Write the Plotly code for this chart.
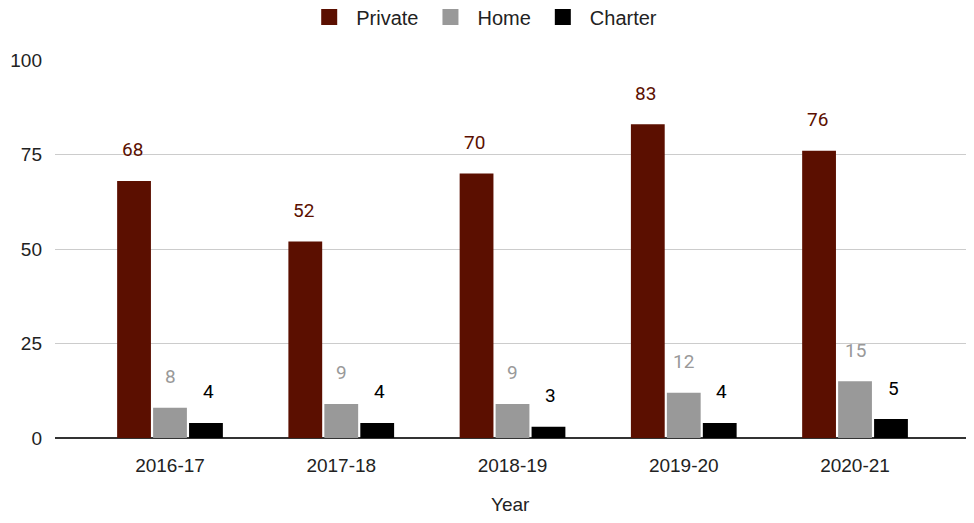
import plotly.graph_objects as go

years = ["2016-17", "2017-18", "2018-19", "2019-20", "2020-21"]
private = [68, 52, 70, 83, 76]
home = [8, 9, 9, 12, 15]
charter = [4, 4, 3, 4, 5]

series = [
    ("Private", private, "#5b0f00"),
    ("Home", home, "#999999"),
    ("Charter", charter, "#000000"),
]
shifts = [-38, 0, 38]

fig = go.Figure()
for name, vals, color in series:
    fig.add_trace(go.Bar(name=name, x=years, y=vals, showlegend=False,
                         marker=dict(color=color, line=dict(width=0))))
# legend swatches (larger squares, like the reference)
for name, vals, color in series:
    fig.add_trace(go.Scatter(name=name, x=[None], y=[None], mode="markers",
                             marker=dict(symbol="square", size=18, color=color), hoverinfo="skip"))

for (name, vals, color), dx in zip(series, shifts):
    for yr, v in zip(years, vals):
        fig.add_annotation(x=yr, y=v, text=str(v), showarrow=False, xshift=dx, yshift=31,
                           yanchor="middle", font=dict(family="Roboto", size=19, color=color))

# x-axis title
fig.add_annotation(text="Year", xref="paper", yref="paper", x=0.5, y=0, yshift=-66,
                   yanchor="middle", showarrow=False, font=dict(size=19, color="#222222"))

# page body has an 8px margin, so the figure is sized/offset to compensate
fig.update_layout(
    width=958, height=507,
    margin=dict(l=47, r=0, t=52, b=77, autoexpand=False),
    paper_bgcolor="white", plot_bgcolor="white",
    barmode="group", bargap=0.37, bargroupgap=0.06,
    font=dict(family="Liberation Sans, Arial", size=19, color="#222222"),
    legend=dict(orientation="h", x=0.495, xref="container", xanchor="center", yref="paper",
                y=1.114, yanchor="middle", font=dict(size=20, color="#222222"), itemwidth=44,
                itemsizing="trace"),
    xaxis=dict(range=[-0.6715, 4.648], showgrid=False, ticks="", ticklabelstandoff=14,
               showline=False, zeroline=False, automargin=False),
    yaxis=dict(range=[0, 100], tickvals=[0, 25, 50, 75, 100], showgrid=True, gridcolor="#cccccc",
               gridwidth=1, zeroline=True, zerolinecolor="#333333", zerolinewidth=1.5,
               ticklabelstandoff=12, showline=False, automargin=False),
)
fig.write_html("out.html")
